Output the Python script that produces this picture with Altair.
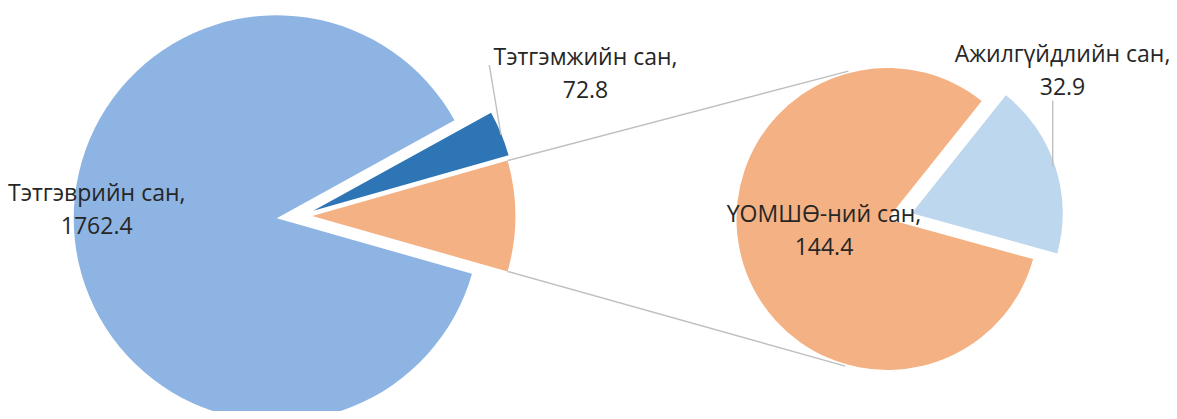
import math
import pandas as pd
import altair as alt

# ---- data ----
main_categories = ["Тэтгэврийн сан", "Тэтгэмжийн сан"]
main_values = [1762.4, 72.8]
sub_categories = ["ҮОМШӨ-ний сан", "Ажилгүйдлийн сан"]
sub_values = [144.4, 32.9]
other_name = "Бусад"

# ---- layout / style ----
W, H = 1161, 403
FONT = "Open Sans"
FS = 23
TXT = "#262626"
LINE = "#BFBFBF"
colors = {
    "Тэтгэврийн сан": "#8EB4E3",
    "Тэтгэмжийн сан": "#2E75B6",
    other_name: "#F4B183",
    "ҮОМШӨ-ний сан": "#F4B183",
    "Ажилгүйдлийн сан": "#BDD7EE",
}
L_CX, L_CY, L_R = 268.7, 210.3, 203
R_CX, R_CY, R_R = 879.5, 211.0, 151
explode = {
    other_name: (35.6, -2.3),
    "Тэтгэмжийн сан": (36.6, -7.6),
    "Ажилгүйдлийн сан": (24.2, -5.7),
}
label_pos = {
    "Тэтгэврийн сан": (88.7, 193.0),
    "Тэтгэмжийн сан": (577.5, 57.0),
    "ҮОМШӨ-ний сан": (816.0, 214.3),
    "Ажилгүйдлийн сан": (1054.5, 53.7),
}


def pie_df(names, values):
    df = pd.DataFrame({"name": names, "value": values})
    df["end"] = df["value"].cumsum()
    df["start"] = df["end"] - df["value"]
    df["label"] = [f"{n},\n{v}" for n, v in zip(names, values)]
    return df


other_value = round(sum(sub_values), 1)
left_df = pie_df([other_name] + main_categories, [other_value] + main_values)
left_total = float(left_df["value"].sum())
right_df = pie_df([sub_categories[1], sub_categories[0]], [sub_values[1], sub_values[0]])
right_total = float(right_df["value"].sum())

# rotation: "other" slice centred on the right (east) in left pie
left_rot = math.pi / 2 - math.pi * other_value / left_total
# right pie: Ажилгүйдлийн slice centred 18 degrees above east
right_rot = math.radians(90 - 18) - math.pi * sub_values[1] / right_total


def slice_layer(df, total, rot, name, cx, cy, r):
    dx, dy = explode.get(name, (0, 0))
    return (
        alt.Chart(df)
        .transform_filter(alt.datum.name == name)
        .mark_arc(outerRadius=r, color=colors[name], strokeWidth=0)
        .encode(
            theta=alt.Theta("start:Q", stack=None,
                            scale=alt.Scale(domain=[0, total], range=[rot, rot + 2 * math.pi])),
            theta2="end:Q",
            x=alt.value(cx + dx),
            y=alt.value(cy + dy),
        )
    )


def text_layer(df, name):
    x, y = label_pos[name]
    return (
        alt.Chart(df)
        .transform_filter(alt.datum.name == name)
        .mark_text(align="center", baseline="alphabetic", lineBreak="\n",
                   lineHeight=33, font=FONT, fontSize=FS, color=TXT)
        .encode(text="label:N", x=alt.value(x), y=alt.value(y))
    )


def rule(x1, y1, x2, y2):
    return alt.Chart(pd.DataFrame({"a": [0]})).mark_rule(color=LINE, strokeWidth=1.4).encode(
        x=alt.value(x1), y=alt.value(y1), x2=alt.value(x2), y2=alt.value(y2)
    )


layers = []
for n in left_df["name"]:
    layers.append(slice_layer(left_df, left_total, left_rot, n, L_CX, L_CY, L_R))
for n in right_df["name"]:
    layers.append(slice_layer(right_df, right_total, right_rot, n, R_CX, R_CY, R_R))

# connector lines from the outer corners of the "other" slice to the second pie
half = math.pi * other_value / left_total
odx, ody = explode[other_name]
ox, oy = L_CX + odx, L_CY + ody
for a, b in [(half, math.radians(104.8)), (-half, math.radians(-106.0))]:
    x1 = ox + L_R * math.cos(a)
    y1 = oy - L_R * math.sin(a)
    x2 = R_CX + 153 * math.cos(b)
    y2 = R_CY - 153 * math.sin(b)
    layers.append(rule(x1, y1, x2, y2))

# leader lines
layers.append(rule(481.3, 57.0, 493.0, 127.0))
layers.append(rule(1044.7, 92.7, 1044.7, 158.7))

layers.append(text_layer(left_df, "Тэтгэврийн сан"))
layers.append(text_layer(left_df, "Тэтгэмжийн сан"))
layers.append(text_layer(right_df, "ҮОМШӨ-ний сан"))
layers.append(text_layer(right_df, "Ажилгүйдлийн сан"))

chart = (
    alt.layer(*layers)
    .resolve_scale(theta="independent")
    .properties(width=W, height=H, padding=0, autosize="none", background="white")
    .configure_view(stroke=None)
)

chart.save("out.html", embed_options={"renderer": "svg", "actions": False})
